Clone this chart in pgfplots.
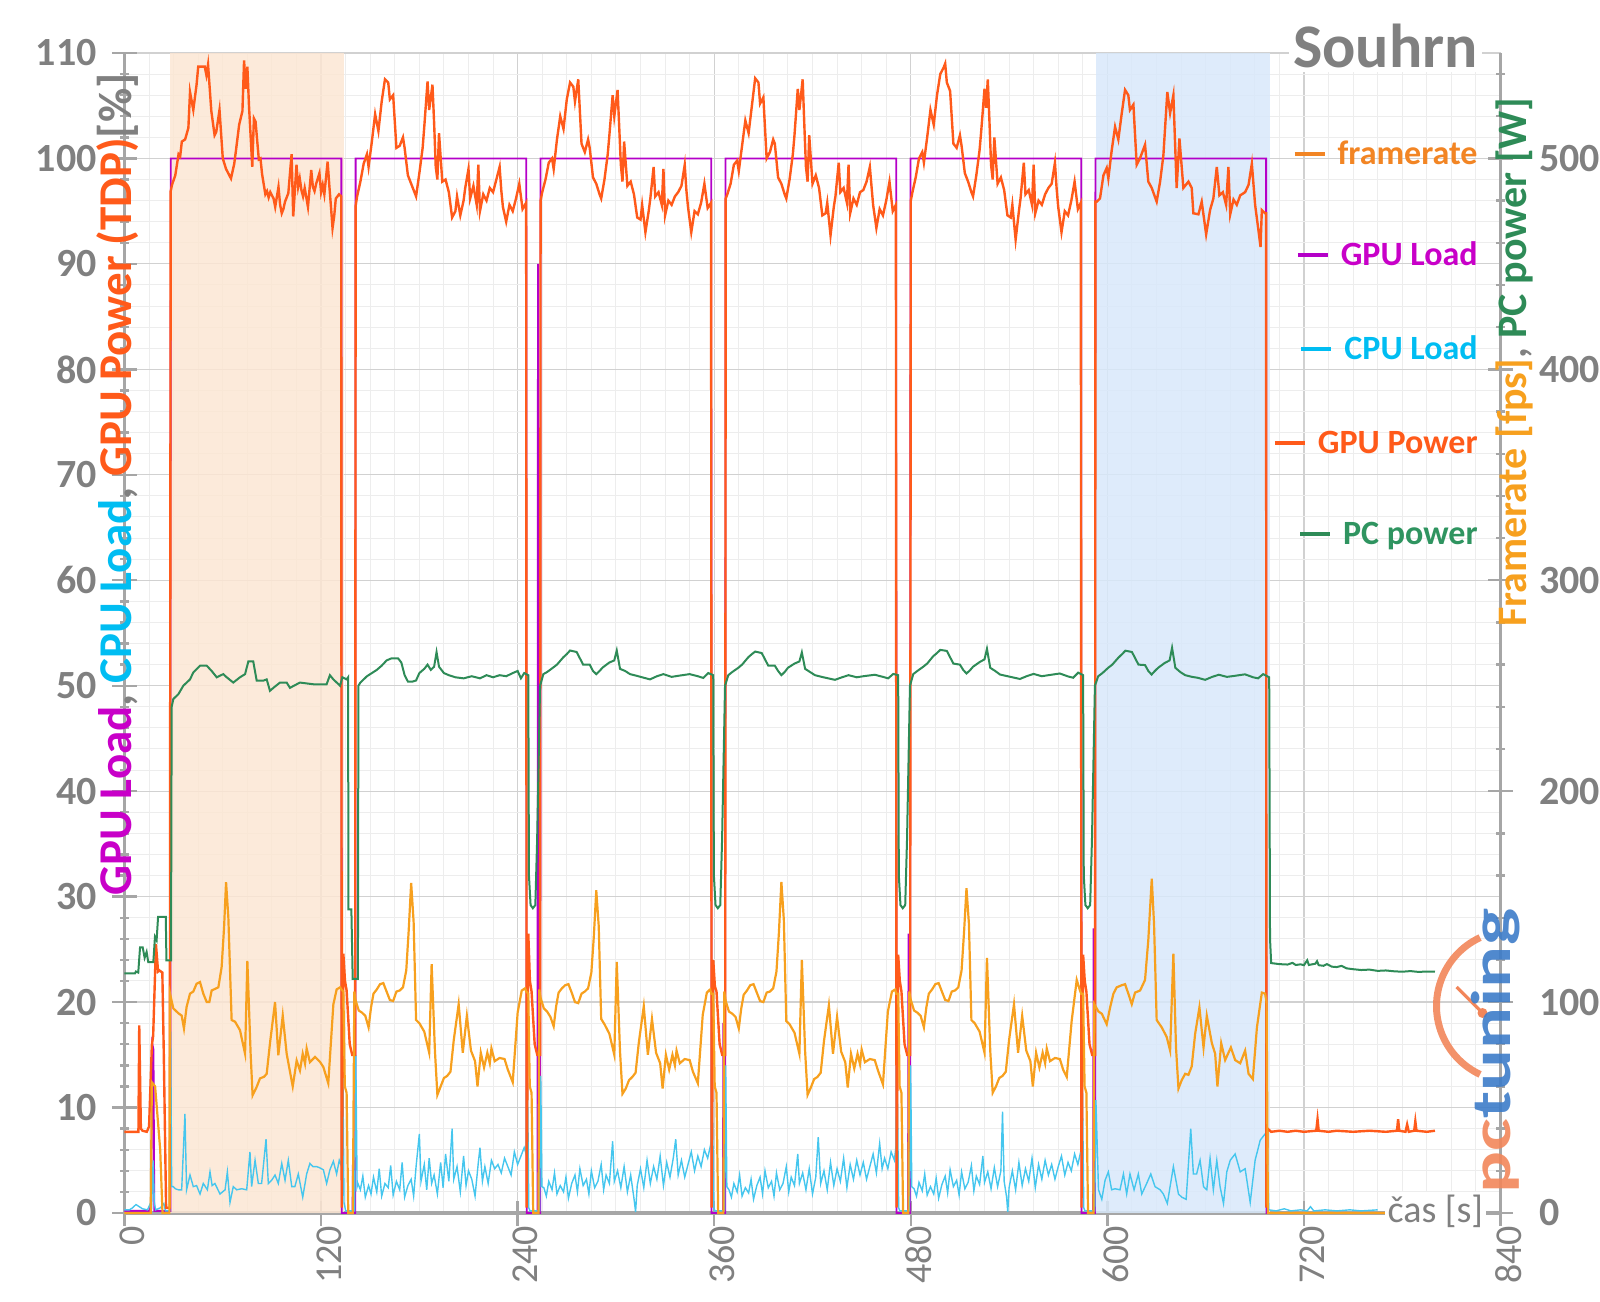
\documentclass[border=0pt]{standalone}
\usepackage{pgfplots}
\pgfplotsset{compat=1.18}
\usepackage{graphicx}
\usepackage{fontspec}
\setmainfont{Carlito}
\definecolor{cFR}{HTML}{F7A01E}
\definecolor{cFRt}{HTML}{F28524}
\definecolor{cGL}{HTML}{B400C8}
\definecolor{cGLt}{HTML}{C800C8}
\definecolor{cCPU}{HTML}{45C6EE}
\definecolor{cCPUt}{HTML}{00BDF2}
\definecolor{cGP}{HTML}{FF5A1A}
\definecolor{cPC}{HTML}{2E8B57}
\definecolor{cPCt}{HTML}{2F9460}
\definecolor{cTx}{HTML}{808080}
\definecolor{cAx}{HTML}{A6A6A6}
\definecolor{peach}{HTML}{FCE6D3}
\definecolor{lblue}{HTML}{D8E8FA}
\definecolor{logoO}{HTML}{F2865A}
\definecolor{logoB}{HTML}{3D7CC9}
\begin{document}
\begin{tikzpicture}
\useasboundingbox (-62.25pt,-44pt) rectangle (737.75pt,606.5pt);
\begin{axis}[
  at={(0,0)}, anchor=south west, scale only axis,
  width=688pt, height=580pt,
  xmin=0, xmax=840, ymin=0, ymax=110,
  axis x line*=bottom, axis y line*=left,
  xtick={0,120,...,840}, minor xtick={15,30,...,825},
  ytick={0,10,...,110}, minor ytick={2,4,...,108},
  grid=both,
  major grid style={draw=black!18, line width=0.6pt},
  minor grid style={draw=black!7, line width=0.5pt},
  axis line style={draw=cAx, line width=1.6pt},
  tick style={draw=cAx, line width=1.2pt},
  minor x tick style={draw=none},
  major tick length=12.5pt, minor tick length=4.5pt, tick align=center,
  /pgf/number format/assume math mode=true,
  yticklabel style={font=\bfseries\fontsize{20}{20}\selectfont, text=cTx, inner sep=0pt, xshift=-7.5pt},
  xticklabel style={rotate=90, anchor=east, font=\fontsize{19}{19}\selectfont, text=cTx, inner sep=0pt, yshift=-4pt},
  clip=false,
]
\addplot[draw=none, fill=peach, fill opacity=0.85] coordinates {(27.5,110) (134,110)} \closedcycle;
\addplot[draw=none, fill=lblue, fill opacity=0.85] coordinates {(593,110) (699,110)} \closedcycle;
% GPU Load
\addplot[cGL, line width=0.9pt] coordinates {
(0,0.2) (15,0.2) (16.3,0.8) (17,16) (17.7,15.5) (18.2,0.2) (28,0.2) (28.2,100) (132.4,100) (132.6,0)
(139.2,0) (139.5,6) (139.8,0) (140.9,0) (141.1,100) (245.3,100) (245.5,0) (252.1,0) (252.4,90) (252.7,0)
(253.8,0) (254,100) (358.2,100) (358.4,0) (365.3,0) (365.6,18) (365.9,0) (366.7,0) (366.9,100) (471.1,100)
(471.3,0) (478.3,0) (478.6,26.5) (478.9,0) (479.6,0) (479.8,100) (584,100) (584.2,0) (591.3,0) (591.6,27)
(591.9,0) (592.5,0) (592.7,100) (696.9,100) (697.1,0) (771,0)};
% CPU Load
\addplot[cCPU, line width=0.7pt] coordinates {
(0,0.3) (3,0.3) (5,0.5) (7,0.8) (9,0.6) (11,0.4) (14,0.3) (15.5,0.8) (16.5,0.3) (17.5,5) (18.2,1) (19,0.3) (22,0.5) (24,0.9) (25,0.2) (27.6,0.2) (28.2,17.2) (28.8,2.5)
(29.8,2.5) (31,2.3) (32.9,2.2) (34.9,2.2) (36.9,9.4) (37.9,2.2) (40,3.6) (42,2.5) (44,2.6) (46.1,1.8) (48.1,2.8) (50.6,2.2) (52.2,3.9) (53.5,2.6) (55.2,2.8) (58.3,1.8) (61.4,2.2) (62.8,3.9) (64.4,1.0) (66.4,2.5) (68.5,2.2) (71.5,2.3) (74.6,2.2) (76.6,5.8) (77.6,2.5) (79.7,5.0) (81.7,2.8) (83.7,2.8) (86.4,7.0) (87.8,2.8) (89.8,3.1) (91.9,3.6) (93.9,2.8) (96,4.7) (98,3.1) (100,5.0) (102.1,2.5) (104,2.5) (106.1,3.7) (108.8,1.5) (111.2,3.7) (113.2,4.7) (115,4.4) (117.3,4.4) (119,4.3) (121.4,4.1) (123.4,2.8) (125.4,4.1) (127.5,4.9) (129.5,3.7) (131.1,5) (132.3,4.5)
(132.8,23) (133.4,12) (134,1) (135,0.2) (140.5,0.2) (141.2,15) (142,2.5)
(142.5,2.8) (144,2.2) (145.5,3.5) (147,1.5) (149,2.6) (150.5,1.8) (152,3.4) (154,2.0) (155.5,4.2) (157,1.6) (159,2.8) (161,2.4) (162.5,4.5) (164,1.7) (166,3.0) (168,2.2) (169.5,4.8) (171,1.5) (173,2.6) (175,3.2) (176.5,1.6) (178,4.4) (180,7.5) (181,3) (183,4.6) (184.5,2.2) (186,5.2) (187.5,2.8) (189,3.6) (191,1.8) (193,4.8) (194.5,2.4) (196,5.6) (198,3.0) (200,8.0) (201,3.2) (203,4.4) (205,2.0) (207,5.4) (208.5,2.6) (210,4.0) (212,3.2) (214,1.6) (216,4.8) (217,6.2) (218.5,3.0) (220,4.4) (222,2.8) (224,5.0) (226,4.2) (228,4.6) (230,3.8) (232,5.2) (234,4.4) (236,3.6) (238,5.8) (240,4.6) (242,5.4) (244,6.2) (245.2,5.6)
(245.6,19) (246.2,10) (246.8,0.5) (247.5,0.2) (253.4,0.2) (254.1,13) (254.8,2.5)
(256,2.4) (257.5,1.6) (259,3.0) (261,2.2) (262.5,3.8) (264,1.8) (266,2.6) (268,2.0) (269.5,3.4) (271,1.4) (273,2.8) (275,3.6) (276.5,2.0) (278,4.2) (280,2.6) (282,3.2) (283.5,1.8) (285,4.0) (287,2.4) (289,3.0) (291,4.6) (292.5,2.2) (294,3.6) (296,2.8) (298,6.8) (299,3.0) (301,4.0) (303,2.4) (305,4.4) (307,2.0) (309,3.6) (311,1.4) (312,0.1) (313,2.6) (315,4.2) (317,2.4) (319,5.0) (321,2.8) (323,4.4) (325,3.2) (327,5.4) (329,2.6) (331,4.8) (333,3.4) (335,5.2) (336.5,7.0) (338,3.6) (340,5.0) (342,3.4) (344,4.6) (346,5.8) (348,4.0) (350,5.4) (352,4.4) (354,6.0) (356,5.2) (358,6.6)
(358.5,18) (359.1,9) (359.7,0.5) (360.4,0.2) (366.3,0.2) (367,14) (367.7,2.5)
(369,2.2) (370.5,1.5) (372,2.8) (374,2.0) (375.5,3.6) (377,1.6) (379,2.4) (381,1.9) (382.5,3.2) (384,1.3) (386,2.6) (388,3.4) (389.5,1.8) (391,4.0) (393,2.4) (395,3.0) (396.5,1.6) (398,3.8) (400,2.2) (402,2.8) (404,4.4) (405.5,2.0) (407,3.4) (409,2.6) (411,5.6) (412,2.8) (414,3.8) (416,2.2) (418,4.2) (420,1.8) (422,3.4) (423.5,7.2) (425,2.8) (427,4.0) (429,2.2) (431,4.8) (433,2.6) (435,4.2) (437,3.0) (439,5.2) (441,2.4) (443,4.6) (445,3.2) (447,5.0) (449,3.6) (451,4.8) (453,3.2) (455,4.4) (457,5.6) (459,3.8) (461,6.6) (462.5,4.2) (464,5.2) (466,4.2) (468,5.8) (470,5.0) (471,6.4)
(471.4,18.5) (472,9) (472.6,0.5) (473.3,0.2) (479.2,0.2) (479.9,14) (480.6,2.5)
(482,2.3) (483.5,1.6) (485,2.9) (487,2.1) (488.5,3.7) (490,1.7) (492,2.5) (494,1.8) (495.5,3.3) (497,1.4) (499,2.7) (501,3.5) (502.5,1.9) (504,4.1) (506,2.5) (508,3.1) (509.5,1.7) (511,3.9) (513,2.3) (515,2.9) (517,4.5) (518.5,2.1) (520,3.5) (522,2.7) (524,5.4) (525,2.9) (527,3.9) (529,2.3) (531,4.3) (533,2.5) (535,4.0) (536,9.6) (537,3.0) (538.5,1.5) (539.2,0.1) (540,2.4) (542,4.0) (544,2.2) (546,4.8) (548,2.6) (550,4.2) (552,3.0) (554,5.2) (556,2.4) (558,4.6) (560,3.2) (562,5.0) (564,3.6) (566,4.6) (568,3.2) (570,4.4) (572,5.4) (574,3.6) (576,4.8) (578,4.0) (580,5.6) (582,4.6) (584,6.0)
(584.4,18.3) (585,9) (585.6,0.5) (586.3,0.2) (592.3,0.2) (593,10.7) (594.6,2.2)
(596.6,1.3) (598.6,3.1) (600.6,3.9) (602.6,2.2) (604.7,2.3) (607.7,2.2) (609.8,3.7) (611.8,1.8) (613.8,3.7) (616.3,2.2) (618.9,3.7) (621,1.8) (624,2.8) (626.5,3.7) (629.1,2.5) (632.2,2.2) (634.2,1.8) (636.6,0.9) (640.3,4.4) (643.4,1.8) (645.4,1.5) (648.1,1.3) (650.9,8.0) (652.5,3.7) (654.5,3.7) (656.6,5.0) (658.7,2.5) (660.7,2.2) (662.7,5.2) (664.7,2.2) (666.8,5) (668.8,2.5) (670.9,0.9) (672.9,3.9) (675,5) (678,5.6) (681.1,3.9) (684.1,4.2) (687.2,1.0) (690.2,5.0) (693.3,6.9) (696.3,7.5)
(697.3,7.6) (698.5,0.3) (703,0.2) (708,0.4) (712,0.2) (718,0.3) (722,0.2) (724,0.6) (726,0.2) (733,0.3) (740,0.2) (748,0.3) (755,0.2) (765,0.3)};
% GPU Power
\addplot[cGP, line width=1.2pt] coordinates {
(0,7.7) (5,7.7) (8.5,7.7) (9,17.8) (10,8) (11,7.8) (13.6,7.7) (15,8.2) (16.7,15.9) (17.5,16.8) (19.2,25.5) (20.5,22.9) (21.3,23) (23.1,22.8) (24,15) (25.4,0.5) (27.6,0.5)
(28.2,96.9) (29,97.5) (31,98.4) (33,100.4) (34,100.2) (35,101.6) (37,101.8) (39,102.9) (40,106.3) (42,104.6) (44,107) (45,108.7) (47,108.7) (49,108.7) (50,107.9) (51,108.9) (53,104.5) (55,102.2) (56,102.5) (58,104.6) (60,100) (62,99) (64,98.4) (65,98.1) (67,99.5) (68,100.7) (70,103.2) (72,104.5) (73,109.3) (74,106.6) (75,108.7) (76,105) (78,99.2) (79,103.8) (80,103.5) (82,99.9) (83,100) (84,98.5) (86,96.6) (87,96.9) (88,96.3) (89,96.8) (91,96.2) (92,95.4) (94,97.3) (95,95.6) (96,94.8) (97,95.2) (98,95.9) (100,96.7) (102,100.4) (103,94.5) (105,99.4) (106,97.3) (107,98.1) (108,97) (109,96.4) (110,97.2) (112,95.4) (114,98.9) (115,97.3) (116,96.9) (117,97.6) (119,98.6) (120,96.8) (121,97.5) (122,96.6) (124,99.7) (125,97.5) (126,95.5) (127,93.4) (128,94.5) (129,96.2) (131,96.6) (132.3,96.4)
(132.6,0.5) (133.6,24.6) (134.6,22) (135.6,21.1) (137.5,16) (139,15) (140.8,15)
(141.1,95.5) (142,96.4) (144,97.8) (146,99.5) (148,100.4) (149,99.2) (151,101.6) (153,104.2) (155,102.6) (157,105.4) (159,107.5) (161,107.2) (162,105.6) (164,106) (166,101) (168,101.2) (170,102) (171,101) (173,98.4) (175,97.6) (177,96.8) (178,96.4) (180,98.6) (182,101) (183,103) (185,107.3) (186,104.6) (188,107) (189,103.4) (190,99.2) (191,98) (192,102.4) (194,97.8) (196,98) (198,96.8) (200,94.4) (202,95) (203,96.4) (205,94.6) (207,96) (208,97.2) (210,99) (211,96.2) (213,97.4) (215,95.6) (216,99.4) (217,95) (219,96.6) (221,96) (223,97.2) (225,96.8) (227,98) (229,99.2) (230,97) (231,95.4) (233,94) (235,95.6) (237,95) (239,96.2) (241,97.6) (243,95.2) (245.2,95.8)
(245.5,0.5) (246.5,26.5) (247.5,22) (248.5,21) (250.4,16) (252,15) (253.7,15)
(254,96) (255,96.8) (257,98) (259,99.6) (261,100) (262,99) (264,101.8) (266,104) (268,102.8) (270,105.6) (272,107.2) (274,106.8) (275,105.4) (277,107.5) (279,101.4) (281,100.6) (283,101.8) (284,101) (286,98.2) (288,97.6) (290,96.6) (291,96.2) (293,98) (295,100.4) (296,102.2) (298,106) (299,104) (301,106.5) (302,103) (303,99.4) (304,97.8) (305,101.6) (307,97.4) (309,97.8) (311,96.6) (313,94.4) (315,94.2) (316,95.6) (318,93) (320,95) (321,96.2) (323,99.2) (324,96.4) (326,96.8) (328,95.6) (329,99) (330,94.6) (332,96) (334,95.6) (336,96.4) (338,96.8) (340,97.4) (342,99.4) (343,97) (344,95.4) (346,93) (348,95) (350,94.7) (352,95.8) (354,97.6) (356,95.3) (358.1,95.8)
(358.4,0.5) (359.4,24) (360.4,21.5) (361.4,21) (363.3,16) (364.9,15) (366.7,15)
(367,96.2) (368,96.6) (370,97.6) (372,99.4) (374,99.8) (375,98.8) (377,101.2) (379,103.6) (381,102.4) (383,105) (385,107.6) (387,107.2) (388,105.2) (390,105.8) (392,100) (394,100.6) (396,101.8) (397,101.4) (399,98.2) (401,97.6) (403,96.6) (404,96.2) (406,98) (408,100.4) (409,102.2) (411,106.6) (412,104.6) (414,107.5) (415,103.2) (416,99.2) (417,97.8) (418,102.2) (420,97.6) (422,98.4) (424,97.2) (426,94.6) (428,94.8) (429,95.8) (431,92.7) (433,95.4) (434,96.4) (436,99.6) (437,96.8) (439,97.2) (441,95.8) (442,99.4) (443,94.8) (445,96.2) (447,95.6) (449,96.8) (451,97) (453,97.8) (455,99.2) (456,97.4) (457,95.6) (459,93.4) (461,95.2) (463,94.6) (465,96) (467,97.8) (469,95) (470.9,95.6)
(471.3,0.5) (472.3,24.5) (473.3,22) (474.3,21) (476.2,16) (477.8,15) (479.6,15)
(480,96) (481,96.8) (483,98.2) (485,100) (487,100.6) (488,99.6) (490,102) (492,104.6) (494,103.2) (496,106) (498,108) (500,108.6) (501,109) (502,107.2) (504,106.4) (506,101.4) (508,101) (510,102.2) (511,101.2) (513,98.6) (515,97.8) (517,96.8) (518,96.4) (520,98.4) (522,100.8) (523,102.6) (525,106.6) (526,104.8) (527,107.5) (528,103.6) (529,99.4) (530,98) (531,102) (533,97.6) (535,98.2) (537,97) (539,94.6) (541,94.4) (542,95.6) (544,92.3) (546,95) (547,96.2) (549,99.6) (550,96.6) (552,97) (554,95.6) (555,99.4) (556,94.8) (558,96) (560,95.6) (562,96.6) (564,97.2) (566,97.6) (568,99.6) (569,97.2) (570,95.4) (572,93) (574,95) (576,94.6) (578,96) (580,97.8) (582,95.2) (583.8,95.8)
(584.2,0.5) (585.2,24.5) (586.2,22) (587.2,21) (589.1,16) (590.7,15) (592.5,15)
(592.7,95.9) (593.5,95.9) (595.5,96.2) (597.6,98.4) (599.6,99.1) (600.6,98.1) (602.6,100.7) (604.7,103) (606.7,101.8) (608.8,104.3) (610.8,106.5) (612.8,106) (613.8,104.6) (615.9,105.1) (617.9,99.4) (619.9,100) (623,101.3) (625,97.8) (627.1,97.2) (630.1,95.9) (632.2,97.8) (634.2,100.3) (636.6,106.3) (638.3,104.3) (640.3,106) (642.3,97.2) (644,101.9) (646.4,97.2) (649.5,97.8) (651.5,97.2) (652.5,94.8) (655.6,94.7) (657.6,95.9) (660.3,92.8) (662.7,95.1) (664.7,96.2) (666.8,99.2) (668.4,96.5) (670.5,96.8) (672.5,95.6) (673.9,99.2) (675,94.7) (677,96.1) (679,95.6) (681.1,96.5) (684.1,96.8) (686.2,97.5) (688.2,99.5) (690.2,95.6) (692.3,93.1) (693.5,91.6) (694.3,95.1) (696.3,94.8) (696.9,94.8)
(697.1,0.5) (697.8,8) (700,7.7) (705,7.8) (710,7.7) (715,7.8) (720,7.7) (727.5,7.8) (728.3,8.9) (729,7.8) (735,7.7) (740,7.8) (750,7.7) (760,7.8) (770,7.7) (776.8,7.8) (777.5,8.9) (778.2,7.8) (782,7.7) (783,8.4) (784,7.7) (787.3,7.8) (788,8.7) (788.7,7.8) (795,7.7) (800,7.8)};
\end{axis}
\begin{axis}[
  at={(0,0)}, anchor=south west, scale only axis,
  width=688pt, height=580pt,
  xmin=0, xmax=840, ymin=0, ymax=550,
  axis x line=none, axis y line*=right,
  ytick={0,100,...,500}, minor ytick={20,40,...,540},
  axis line style={draw=cAx, line width=1.4pt},
  tick style={draw=cAx, line width=1.2pt},
  major tick length=12.5pt, minor tick length=4.5pt, tick align=center,
  /pgf/number format/assume math mode=true,
  yticklabel style={font=\bfseries\fontsize{20}{20}\selectfont, text=cTx, inner sep=0pt, xshift=13pt},
  clip=false,
]
% framerate
\addplot[cFR, line width=1.1pt] coordinates {
(0,0) (16,0) (16.7,62) (18.7,60) (21.8,30) (23.2,0) (27.4,0)
(27.8,104) (29.8,97) (32.9,94.7) (34.9,93.6) (36.3,87.5) (37.9,97.7) (40,104) (42,105) (44,108.7) (46.1,109.5) (48.1,104) (50.2,100) (51.8,100) (53.2,105.5) (57.3,107) (59.3,116.6) (60.8,135.6) (62,156.9) (63.4,140) (65.4,91.5) (67.5,90.7) (70.5,86.7) (73.6,75.5) (75,119.5) (77,75.5) (78.2,55.8) (80.7,59.8) (82.7,63.8) (85.2,64.6) (86.8,66) (88.8,80.4) (91.9,100) (93.9,74.8) (96.6,93.6) (99,75.5) (102.7,60) (105.1,72.3) (107.1,67.6) (108.8,75.5) (110.2,70.8) (111.2,78) (113.2,71.5) (116.3,74) (119.4,71.6) (121.4,69.2) (124.4,61.5) (127.5,98.9) (129.5,106) (131.6,107)
(132.4,106) (133.6,105) (134.5,60) (135.6,57) (136.6,0) (139.4,0)
(140.3,105) (141,101) (143,96) (145,95) (147,93.5) (149,88) (150.5,97.5) (152,104) (154,106) (156,108.5) (158,109) (160,105) (162,101) (164,100.5) (166,105) (168,105.5) (170,107) (172,115) (173.5,134) (175,156.5) (176.5,138) (178,91.5) (180,90) (183,86) (186,76) (187.5,118) (189.5,77) (191,56) (193,60) (195,64) (197,65) (199,67) (201,82) (204,99) (206.5,76) (209,93.5) (211.5,77) (214,72) (215.5,60) (217.5,76) (219.5,69) (221.5,76) (223,71) (224,78) (226,72) (229,73.5) (232,73) (234,68) (237,62) (240,95) (242.5,105.5) (244.5,106.5) (245.3,105)
(246.5,104) (247.4,60) (248.5,57) (249.5,0) (252.7,0)
(253.2,106) (254,102) (256,97) (258,95.5) (260,93) (262,88.5) (263.5,98) (265,104.5) (267,106.5) (269,108) (271,108.5) (273,104.5) (275,100) (277,99.5) (279,104) (281,105) (283,106.5) (285,114) (286.5,131) (288,153) (289.5,136) (291,92) (293,89.5) (296,85) (299,75) (300.5,119) (302.5,76.5) (304,56.5) (306,59) (308,63) (310,64.5) (312,66.5) (314,81) (317,98) (319.5,75) (322,92) (324.5,76) (327,71) (328.5,59) (330.5,75) (332.5,68) (334.5,75) (336,70) (337,77) (339,71) (342,73) (345,72.5) (347,67) (350,61.5) (353,94) (355.5,104.5) (357.5,106) (358.2,104)
(359.4,104) (360.3,60) (361.4,57) (362.4,0) (365.6,0)
(366.1,105) (367,100.5) (369,95.5) (371,94.5) (373,93) (375,87.5) (376.5,97) (378,103.5) (380,105.5) (382,108) (384,108.5) (386,104.5) (388,100.5) (390,100) (392,104.5) (394,105) (396,106.5) (398,114.5) (399.5,133) (401,157) (402.5,139) (404,91) (406,89.5) (409,85.5) (412,75.5) (413.5,120) (415.5,76.5) (417,56) (419,59.5) (421,63.5) (423,64.5) (425,66.5) (427,81.5) (430,98.5) (432.5,75.5) (435,93) (437.5,76.5) (440,71.5) (441.5,59.5) (443.5,75.5) (445.5,68.5) (447.5,75.5) (449,70.5) (450,77.5) (452,71.5) (455,73) (458,72.5) (460,67.5) (463,61) (466,95.5) (468.5,105) (470.5,106) (471.1,104)
(472.3,104) (473.2,60) (474.3,57) (475.3,0) (478.5,0)
(479,105) (480,101) (482,96) (484,95) (486,93.5) (488,88) (489.5,97.5) (491,104) (493,106) (495,108.5) (497,109) (499,105) (501,101) (503,100.5) (505,105) (507,105.5) (509,107) (511,115) (512.5,133) (514,154) (515.5,137) (517,91.5) (519,90) (522,86) (525,76) (526.5,121) (528.5,77) (530,57) (532,60) (534,64) (536,65) (538,67) (540,82) (543,99) (545.5,76) (548,93.5) (550.5,77) (553,72) (554.5,60) (556.5,76) (558.5,69) (560.5,76) (562,71) (563,78) (565,72) (568,73.5) (571,73) (573,68) (575.2,64.5) (578.2,91) (581.3,110.5) (583.3,105.5) (584,104)
(585.2,104) (586.1,60) (587.2,57) (588.2,0) (591.5,0)
(592,99) (594.6,95.5) (596.6,94.5) (599.6,89.5) (601.7,97.5) (603.7,104) (605.7,107) (608.8,108) (610.8,108.5) (612.8,104) (614.9,99) (616.9,104.5) (620,105.5) (623,110.5) (625,129.5) (627.1,158.5) (628.5,137) (630.1,91.5) (633.2,88) (636.2,83.5) (638.3,77) (640.3,123) (641.9,78.5) (643.4,59) (645.4,63) (647.5,66) (649.5,65.5) (651.5,69.5) (653.6,85) (656.2,97.5) (658.7,78.5) (660.7,93.5) (663.8,80.5) (665.8,75.5) (667.2,60) (669.5,80.5) (671.9,72.5) (675.4,78.5) (678,72.5) (681.1,71) (684.1,77) (686.2,66) (688.8,63.5) (691.3,88) (694.3,104.5) (696.3,104) (697.2,100) (698,0) (771,0)};
% PC power
\addplot[cPC, line width=1.0pt] coordinates {
(0,113.6) (6.4,113.6) (7,114.5) (8.4,114) (9.5,126) (11.1,126) (12.3,121) (13.5,123.8) (14.5,119) (17.6,119) (18.6,130.9) (19.6,129.3) (20.5,140.4) (25.2,140.4) (25.6,119.8) (28.4,119.8)
(28.8,240) (29.8,243.7) (32.9,246) (35.9,250) (40,253) (42,256.3) (46.1,259.5) (50.2,259.5) (53.2,257) (56.3,254) (60.3,255.5) (62.4,254) (66.4,251.5) (70.5,254) (73.6,255.5) (75.6,261.5) (78.6,261.5) (80.7,252.4) (84.7,252.4) (86.8,253) (88.8,247.6) (90.9,249) (94.9,251.5) (99,251.5) (101,249) (107.1,251.5) (115.2,250.7) (123.4,250.7) (125.4,255) (127.5,253) (131.6,250) (133,254) (135.6,253) (136.5,254)
(136.7,144) (138.5,144) (139.3,111) (142.5,111)
(142.8,250) (144,251.5) (146,253) (148,254.5) (151,256) (154,257.5) (157,259.5) (160,262) (163,263) (167,263) (169,261) (171,255) (173,252) (176,252) (178,252.5) (180,256) (183,258) (185,260) (187,257.5) (189,259) (190.5,266) (192,259) (195,256) (198,255) (202,254) (207,253.5) (212,254.5) (217,253.5) (221,255) (225,254) (229,255) (233,254.5) (237,256) (240,257) (242,253.5) (244,256) (246.5,255)
(246.9,160) (247.9,146) (249.3,144.5) (250.8,146) (251.9,177) (253.7,250)
(255.7,255.5) (258,256.5) (261.8,258.7) (264,260) (267.9,263.5) (270,265) (272,266.7) (276,266) (278,263) (280,260) (284,260) (286,257) (288,255.5) (290,257) (292,258.7) (296,261) (299,262) (300.5,266.7) (302.5,258) (305.6,257) (308.6,255.5) (312.7,254.7) (316,254) (320.8,253) (325,254.5) (329,255.5) (334,254.2) (338,254.7) (345,255.5) (350,254.5) (353.3,253.7) (356.4,256) (359.4,255)
(359.8,160) (360.8,146) (362.2,144.5) (363.7,146) (364.8,177) (366.6,250)
(368.6,255) (371,256.5) (374.7,258.5) (377,260) (380.8,263.5) (383,265) (385,266.2) (389,265.5) (391,262.5) (393,259.5) (397,259.5) (399,257) (401,255) (403,256.5) (405,258.5) (409,260.5) (412,261.5) (413.5,265.8) (415.5,258) (418.5,256.5) (421.5,255) (425.6,254.2) (429,253.6) (433.7,252.8) (438,254) (442,255) (447,254) (451,254.5) (458,255.2) (463,254.2) (466.2,253.5) (469.3,255.6) (472.3,255)
(472.7,160) (473.7,146) (475.1,144.5) (476.6,146) (477.7,177) (479.5,250)
(481.5,255.5) (484,257) (487.6,259) (490,260.5) (493.7,264) (496,265.5) (498,267) (502,266.5) (504,263.5) (506,260.5) (510,260) (512,257.5) (514,255.8) (516,257.2) (518,259) (522,261.2) (525,262.5) (526.5,267.5) (528.5,258.5) (531.5,257) (534.5,255.3) (538.5,254.6) (542,254) (546.6,253.2) (551,254.6) (555,255.6) (560,254.5) (564,255) (571,255.8) (576,254.4) (579.1,253.8) (582.2,256.2) (585.2,255)
(585.6,160) (586.6,146) (588,144.5) (589.5,146) (590.6,177) (592.4,250)
(594.4,254.5) (597,256) (600.5,258.5) (603,260) (606.6,263.2) (609,265) (611,266.6) (615,266) (617,263) (619,260) (623,259.8) (625,257) (627,255.3) (629,257) (631,258.5) (635,260.8) (638,262) (639.5,268) (641.5,258.5) (644.5,256.5) (647.5,255) (651.6,254.2) (655,253.8) (659.7,252.8) (664,254.2) (668,255.2) (673,254.2) (677,254.6) (684,255.4) (689,254) (692,253.5) (695.1,255.5) (698.8,254)
(699.3,130) (700,118.5) (705,118) (710,117.8) (713,118.6) (715,117.6) (718,117.9) (720,117.5) (722,119.8) (723,117.6) (727,118.2) (728,119.4) (729,117.5) (732,117.2) (734,118) (737,116.8) (740,116.6) (743,117.2) (746,116) (750,115.6) (755,115.2) (760,115.4) (765,114.8) (770,115) (775,114.6) (780,114.4) (785,114.7) (790,114.3) (795,114.5) (800,114.4)};
\end{axis}
% title
\node[anchor=base east, fill=white, inner sep=2pt, text=cTx, font=\bfseries\fontsize{31}{31}\selectfont] at (678.75pt,572.5pt) {Souhrn};
% legend
\node[anchor=east, inner sep=0pt, text=cFRt, font=\bfseries\fontsize{17}{17}\selectfont] at (676.75pt,530pt) {\textcolor{cFRt}{\rule[0.25em]{15pt}{2pt}}\hspace{6.5pt}framerate};
\node[anchor=east, inner sep=0pt, text=cGLt, font=\bfseries\fontsize{17}{17}\selectfont] at (676.75pt,479.5pt) {\textcolor{cGL}{\rule[0.25em]{15pt}{2pt}}\hspace{6.5pt}GPU Load};
\node[anchor=east, inner sep=0pt, text=cCPUt, font=\bfseries\fontsize{17}{17}\selectfont] at (676.75pt,432.5pt) {\textcolor{cCPUt}{\rule[0.25em]{15pt}{2pt}}\hspace{6.5pt}CPU Load};
\node[anchor=east, inner sep=0pt, text=cGP, font=\bfseries\fontsize{17}{17}\selectfont] at (676.75pt,385.5pt) {\textcolor{cGP}{\rule[0.25em]{15pt}{2pt}}\hspace{6.5pt}GPU Power};
\node[anchor=east, inner sep=0pt, text=cPCt, font=\bfseries\fontsize{17}{17}\selectfont] at (676.75pt,338.5pt) {\textcolor{cPC}{\rule[0.25em]{15pt}{2pt}}\hspace{6.5pt}PC power};
% axis labels
\node[rotate=90, anchor=east, inner sep=0pt, font=\bfseries\fontsize{23.5}{23.5}\selectfont] at (-3.5pt,570pt) {\textcolor{cGLt}{GPU Load}\textcolor{cTx}{, }\textcolor{cCPUt}{CPU Load}\textcolor{cTx}{, }\textcolor{cGP}{GPU Power (TDP)}\textcolor{cTx}{ [\%]}};
\node[rotate=90, anchor=east, inner sep=0pt, font=\bfseries\fontsize{21}{21}\selectfont] at (694.75pt,558pt) {\textcolor{cFR}{Framerate [fps]}\textcolor{cTx}{, }\textcolor{cPC}{PC power [W]}};
\node[anchor=base east, fill=white, inner sep=1.5pt, text=cTx, font=\fontsize{19}{19}\selectfont] at (681pt,-4.5pt) {čas [s]};
% logo
\draw[logoO, line width=3.5pt, opacity=0.9] (693.75pt,103.5pt) ++(115:37.75pt) arc[start angle=115, end angle=245, radius=37.75pt];
\draw[logoO, line width=1.6pt] (679pt,100pt) -- (666pt,113pt);
\fill[logoO] (679pt,100pt) circle (2.5pt);
\node[rotate=90, anchor=base west, inner sep=0pt, opacity=0.9, font=\bfseries\fontsize{28}{28}\selectfont] at (692.75pt,9.5pt) {\scalebox{1.4}[1]{\textcolor{logoO}{pc}\textcolor{logoB}{tuning}}};
\end{tikzpicture}
\end{document}
